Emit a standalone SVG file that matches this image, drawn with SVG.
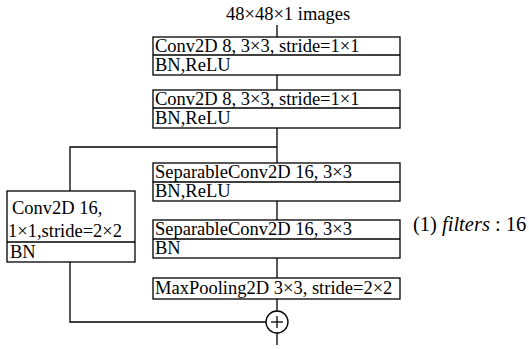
<svg xmlns="http://www.w3.org/2000/svg" width="529" height="349" viewBox="0 0 529 349">
<style>
.b{fill:#fff;stroke:#000;stroke-width:1.3}
.l{fill:none;stroke:#000;stroke-width:1.3}
text{font-family:"Liberation Serif","Times New Roman",serif;font-size:18.5px;fill:#000}
</style>
<rect width="529" height="349" fill="#fff"/>
<g id="connectors">
<line class="l" x1="277" y1="25" x2="277" y2="37"/>
<line class="l" x1="277" y1="75" x2="277" y2="90"/>
<line class="l" x1="277" y1="128" x2="277" y2="163"/>
<polyline class="l" points="277,147 70,147 70,191"/>
<line class="l" x1="277" y1="201" x2="277" y2="220"/>
<line class="l" x1="277" y1="258" x2="277" y2="278"/>
<line class="l" x1="277" y1="299" x2="277" y2="311"/>
<polyline class="l" points="70,262 70,322 266,322"/>
<line class="l" x1="277" y1="333" x2="277" y2="345"/>
</g>
<g id="input"><text x="226" y="20">48×48×1 images</text></g>
<g id="conv1">
<rect class="b" x="153" y="37" width="247" height="38"/>
<line class="l" x1="153" y1="55" x2="400" y2="55"/>
<text x="155" y="52">Conv2D 8, 3×3, stride=1×1</text>
<text x="155" y="71">BN,ReLU</text>
</g>
<g id="conv2">
<rect class="b" x="153" y="90" width="247" height="38"/>
<line class="l" x1="153" y1="108" x2="400" y2="108"/>
<text x="155" y="105">Conv2D 8, 3×3, stride=1×1</text>
<text x="155" y="124">BN,ReLU</text>
</g>
<g id="sep1">
<rect class="b" x="153" y="163" width="247" height="38"/>
<line class="l" x1="153" y1="182" x2="400" y2="182"/>
<text x="155" y="178">SeparableConv2D 16, 3×3</text>
<text x="155" y="197">BN,ReLU</text>
</g>
<g id="sep2">
<rect class="b" x="153" y="220" width="247" height="38"/>
<line class="l" x1="153" y1="239" x2="400" y2="239"/>
<text x="155" y="235">SeparableConv2D 16, 3×3</text>
<text x="155" y="254">BN</text>
</g>
<g id="maxpool">
<rect class="b" x="153" y="278" width="247" height="21"/>
<text x="155" y="294">MaxPooling2D 3×3, stride=2×2</text>
</g>
<g id="shortcut">
<rect class="b" x="7" y="191" width="128" height="71"/>
<line class="l" x1="7" y1="242" x2="135" y2="242"/>
<text x="12" y="214">Conv2D 16,</text>
<text x="8" y="237">1×1,stride=2×2</text>
<text x="10" y="258">BN</text>
</g>
<g id="add">
<circle class="l" cx="277" cy="322" r="11"/>
<line class="l" x1="271" y1="322" x2="283" y2="322"/>
<line class="l" x1="277" y1="316" x2="277" y2="328"/>
</g>
<g id="note"><text x="413" y="231" style="font-size:20.5px">(1) <tspan font-style="italic">filters</tspan> : 16</text></g>
</svg>
